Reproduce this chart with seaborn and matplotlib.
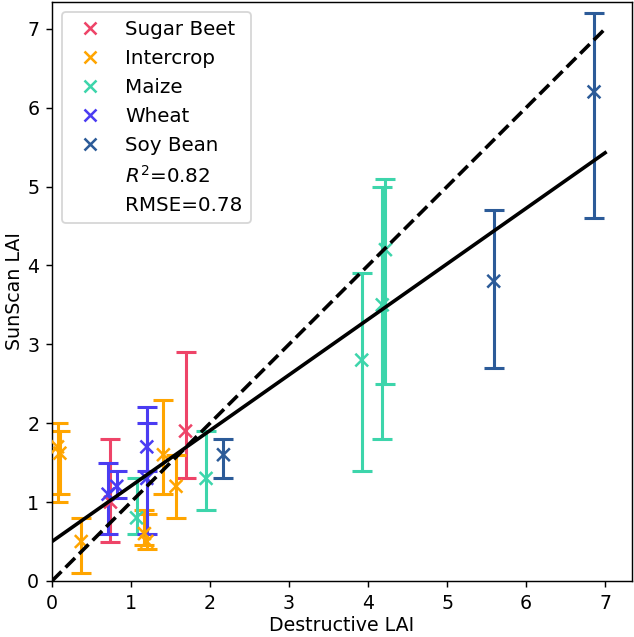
import pandas as pd
import matplotlib
import matplotlib.pyplot as plt
from matplotlib.lines import Line2D
matplotlib.use("Agg")
import seaborn as sns

plt.rcParams["font.size"] = 10.5

# Values (mean, min, max per plot)
crops = ["Sugar Beet", "Intercrop", "Maize", "Wheat", "Soy Bean"]
colors = ["#EE4468", "#FFA500", "#3DD5AB", "#4B3CF2", "#2C5B98"]

crop = (["Sugar Beet"] * 2 + ["Intercrop"] * 7 + ["Maize"] * 5
        + ["Wheat"] * 4 + ["Soy Bean"] * 3)
destructive = [0.74, 1.69,
               0.07, 0.10, 0.37, 1.17, 1.20, 1.41, 1.57,
               1.07, 1.95, 3.92, 4.22, 4.18,
               0.71, 0.82, 1.20, 1.20,
               2.17, 5.59, 6.86]
sunscan = [1.0, 1.9,
           1.7, 1.62, 0.5, 0.6, 0.5, 1.6, 1.2,
           0.8, 1.3, 2.8, 4.2, 3.5,
           1.1, 1.2, 1.7, 1.3,
           1.6, 3.8, 6.2]
sunscan_min = [0.5, 1.3,
               1.0, 1.1, 0.1, 0.45, 0.4, 1.1, 0.8,
               0.6, 0.9, 1.4, 2.5, 1.8,
               0.6, 1.05, 1.4, 0.6,
               1.3, 2.7, 4.6]
sunscan_max = [1.8, 2.9,
               2.0, 1.9, 0.8, 0.9, 0.85, 2.3, 1.6,
               1.3, 1.9, 3.9, 5.1, 5.0,
               1.5, 1.4, 2.2, 2.0,
               1.8, 4.7, 7.2]

# fit line and stats as shown
slope = 0.704
intercept = 0.5
r2 = 0.82
rmse = 0.78
line_x = [0, 7]

df = pd.DataFrame({"crop": crop, "destructive": destructive, "sunscan": sunscan,
                   "lo": sunscan_min, "hi": sunscan_max})
palette = dict(zip(crops, colors))

fig, ax = plt.subplots(figsize=(634 / 130, 637 / 130), dpi=130)
fig.subplots_adjust(left=0.082, right=0.9968, bottom=0.088, top=0.9969)

for c in crops:
    d = df[df["crop"] == c]
    ax.errorbar(d["destructive"], d["sunscan"],
                yerr=[d["sunscan"] - d["lo"], d["hi"] - d["sunscan"]],
                fmt="none", ecolor=palette[c], elinewidth=1.7, capsize=5.5, capthick=1.7,
                zorder=2)

sns.scatterplot(data=df, x="destructive", y="sunscan", hue="crop", palette=palette,
                hue_order=crops, marker="x", s=50, linewidth=1.4, legend=False,
                zorder=3, ax=ax)

fit = pd.DataFrame({"x": line_x, "one_to_one": line_x,
                    "fit": [intercept + slope * v for v in line_x]})
sns.lineplot(data=fit, x="x", y="one_to_one", color="black", lw=2, ls="--", zorder=4, ax=ax)
sns.lineplot(data=fit, x="x", y="fit", color="black", lw=2, zorder=4, ax=ax)

handles = [Line2D([], [], marker="x", ls="", color=palette[c], markersize=7,
                  markeredgewidth=1.4, label=c) for c in crops]
handles.append(Line2D([], [], ls="", label=f"$R^2$={r2}"))
handles.append(Line2D([], [], ls="", label=f"RMSE={rmse}"))
ax.legend(handles=handles, loc="upper left", fontsize=11)

ax.set_xlim(0, 7.34)
ax.set_ylim(0, 7.34)
ax.set_xticks(range(8))
ax.set_yticks(range(8))
ax.set_xlabel("Destructive LAI", labelpad=2)
ax.set_ylabel("SunScan LAI", labelpad=2)

plt.savefig("out.png", dpi=130)
